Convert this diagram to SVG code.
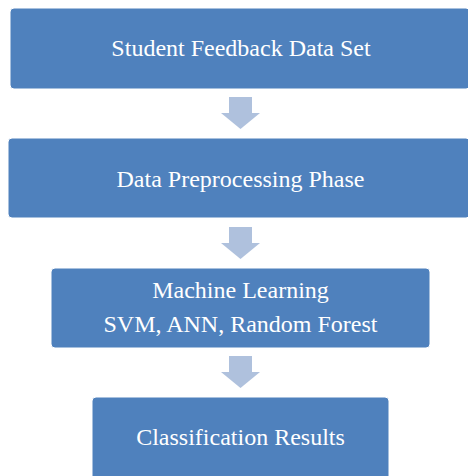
<svg xmlns="http://www.w3.org/2000/svg" width="468" height="476" viewBox="0 0 468 476">
<style>
.box{fill:#4f81bd;stroke:#ffffff;stroke-width:1}
.lbl{font-family:"Liberation Serif","Times New Roman",serif;font-size:24px;fill:#ffffff;text-anchor:middle}
.arr{fill:#afc1dd}
</style>
<rect width="468" height="476" fill="#ffffff"/>
<g id="connectors">
<path class="arr" d="M229,97 H252 V113 H260 L240.5,129 L221,113 H229 Z"/>
<path class="arr" d="M229,227 H252 V243 H260 L240.5,259 L221,243 H229 Z"/>
<path class="arr" d="M229,356 H252 V372 H260 L240.5,388 L221,372 H229 Z"/>
</g>
<g id="node1">
<rect class="box" x="10" y="8" width="460" height="81" rx="4"/>
<text class="lbl" x="241" y="56">Student Feedback Data Set</text>
</g>
<g id="node2">
<rect class="box" x="8" y="138" width="462" height="80" rx="4"/>
<text class="lbl" x="240.5" y="187">Data Preprocessing Phase</text>
</g>
<g id="node3">
<rect class="box" x="51" y="268" width="379" height="80" rx="4"/>
<text class="lbl" x="240.5" y="298">Machine Learning</text>
<text class="lbl" x="240.5" y="332">SVM, ANN, Random Forest</text>
</g>
<g id="node4">
<rect class="box" x="92" y="397" width="297" height="90" rx="4"/>
<text class="lbl" x="240.5" y="445">Classification Results</text>
</g>
</svg>
